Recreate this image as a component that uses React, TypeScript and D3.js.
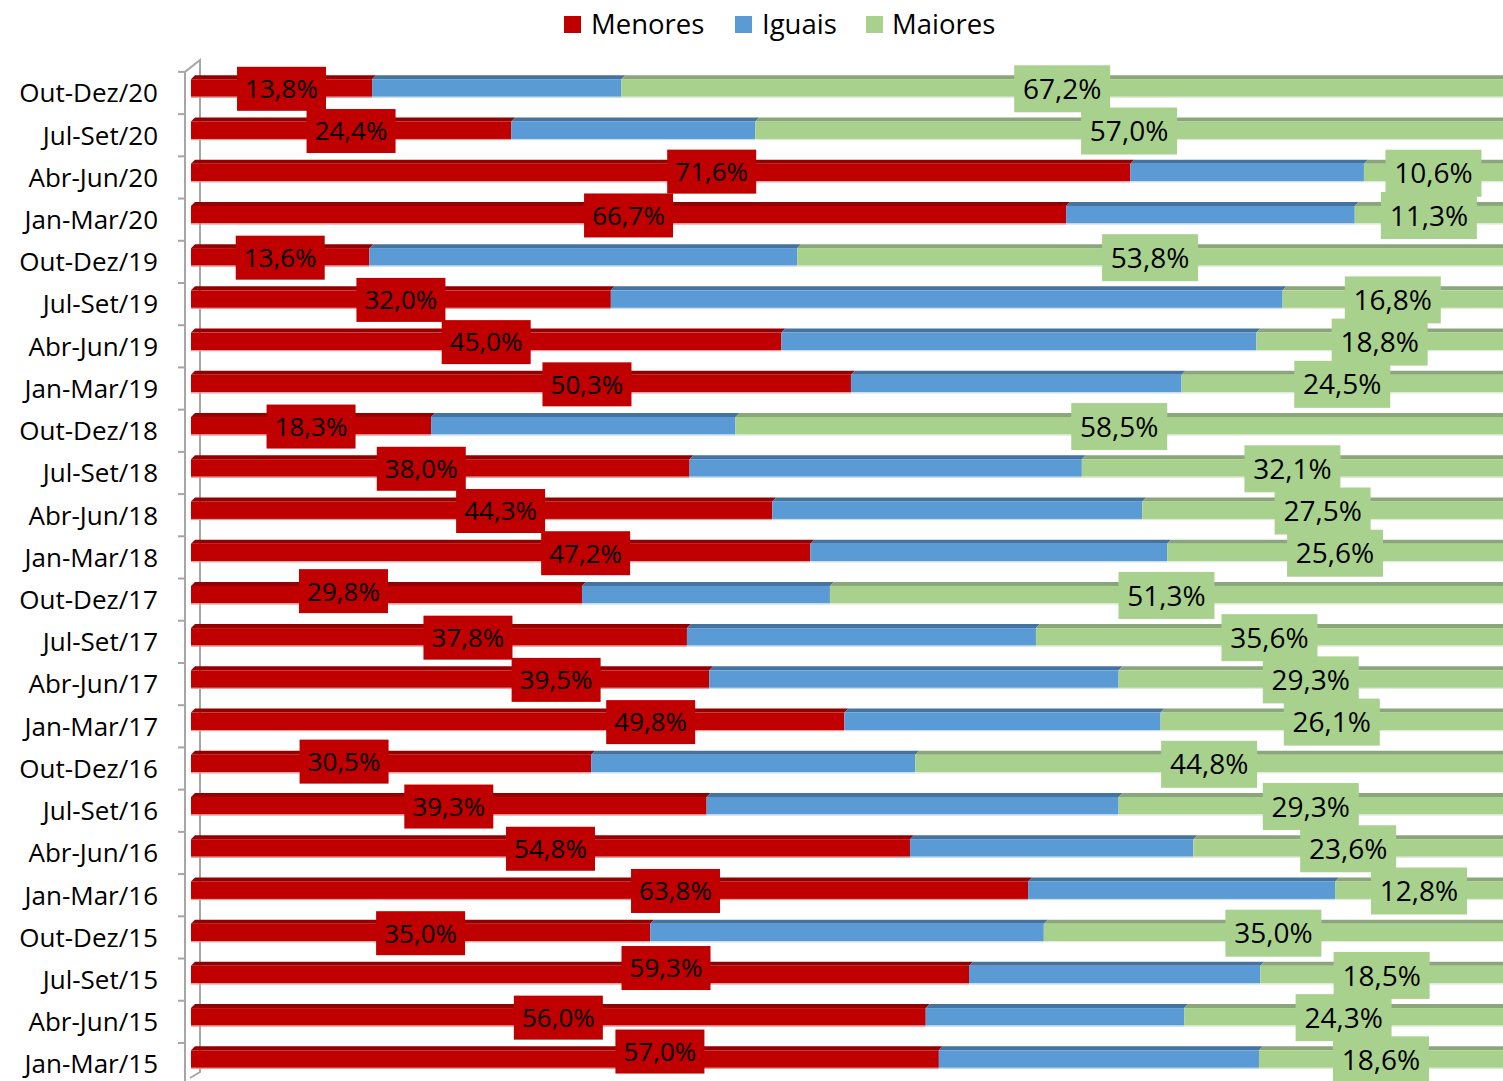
import React from 'react';
import * as d3 from 'd3';

const categories = [
  'Out-Dez/20', 'Jul-Set/20', 'Abr-Jun/20', 'Jan-Mar/20',
  'Out-Dez/19', 'Jul-Set/19', 'Abr-Jun/19', 'Jan-Mar/19',
  'Out-Dez/18', 'Jul-Set/18', 'Abr-Jun/18', 'Jan-Mar/18',
  'Out-Dez/17', 'Jul-Set/17', 'Abr-Jun/17', 'Jan-Mar/17',
  'Out-Dez/16', 'Jul-Set/16', 'Abr-Jun/16', 'Jan-Mar/16',
  'Out-Dez/15', 'Jul-Set/15', 'Abr-Jun/15', 'Jan-Mar/15',
];

const menores = [13.8, 24.4, 71.6, 66.7, 13.6, 32.0, 45.0, 50.3, 18.3, 38.0, 44.3, 47.2, 29.8, 37.8, 39.5, 49.8, 30.5, 39.3, 54.8, 63.8, 35.0, 59.3, 56.0, 57.0];
const iguais = [19.0, 18.6, 17.8, 22.0, 32.6, 51.2, 36.2, 25.2, 23.2, 29.9, 28.2, 27.2, 18.9, 26.6, 31.2, 24.1, 24.7, 31.4, 21.6, 23.4, 30.0, 22.2, 19.7, 24.4];
const maiores = [67.2, 57.0, 10.6, 11.3, 53.8, 16.8, 18.8, 24.5, 58.5, 32.1, 27.5, 25.6, 51.3, 35.6, 29.3, 26.1, 44.8, 29.3, 23.6, 12.8, 35.0, 18.5, 24.3, 18.6];

const seriesNames = ['Menores', 'Iguais', 'Maiores'];
const seriesColors = ['#C00000', '#5B9BD5', '#A9D18E'];
const seriesTopColors = ['#930000', '#44739F', '#8AA67A'];
const seriesEdgeColors = ['#E59A9A', '#C6DCF0', '#DDEBD3'];

// Layout: manual shifts (px) of the Menores data labels, as placed in the reference
const menoresLabelShift: Record<string, [number, number]> = {
  'Abr-Jun/20': [51, -1.6],
  'Jan-Mar/19': [66, 0],
  'Jul-Set/18': [-19, 0],
  'Abr-Jun/18': [19, 0],
  'Jan-Mar/18': [85, 0],
  'Out-Dez/17': [-43, -4.3],
  'Jul-Set/17': [29, 0],
  'Abr-Jun/17': [106, 0],
  'Jan-Mar/17': [133, 0],
  'Out-Dez/16': [-47, -2.7],
  'Jan-Mar/16': [66, 0],
  'Jul-Set/15': [86, -7.4],
  'Jan-Mar/15': [95, -8.3],
};

const FONT = "'Open Sans', 'Noto Sans', sans-serif";
const fmt = (v: number) => v.toFixed(1).replace('.', ',') + '%';

export default function App() {
  const W = 1503;
  const H = 1081;
  const step = 42.22;
  const x = d3.scaleLinear().domain([0, 100]).range([191, 1503]);
  const y = d3.scalePoint<string>().domain(categories).range([93, 93 + (categories.length - 1) * step]);

  const rows = categories.map((c, i) => ({ cat: c, Menores: menores[i], Iguais: iguais[i], Maiores: maiores[i] }));
  const stacked = d3.stack<any>().keys(seriesNames)(rows);

  const faceH = 17.5;
  const depth = 4;
  const barOffset = -5;

  const bars: React.ReactNode[] = [];
  stacked.forEach((layer, si) => {
    layer.forEach((d: any) => {
      const x0 = x(d[0]);
      const x1 = x(d[1]);
      const yc = (y(d.data.cat) as number) + barOffset;
      const yt = yc - faceH / 2;
      const top = [
        [x0, yt], [x1, yt], [x1 + depth, yt - depth], [x0 + depth, yt - depth],
      ].map((p) => p.join(',')).join(' ');
      bars.push(
        <g key={`b-${si}-${d.data.cat}`}>
          <polygon points={top} fill={seriesTopColors[si]} />
          <rect x={x0} y={yt} width={Math.max(0, x1 - x0)} height={faceH} fill={seriesColors[si]} />
          <rect x={x0} y={yt + faceH} width={Math.max(0, x1 - x0)} height={1.2} fill={seriesEdgeColors[si]} />
        </g>
      );
    });
  });

  const labels: React.ReactNode[] = [];
  // Menores labels (red boxes)
  stacked[0].forEach((d: any) => {
    const cat = d.data.cat;
    const shift = menoresLabelShift[cat] || [0, 0];
    const cx = (x(d[0]) + x(d[1])) / 2 + shift[0];
    const cy = (y(cat) as number) - 4.2 + shift[1];
    const bw = 89, bh = 44;
    labels.push(
      <g key={`lm-${cat}`}>
        <rect x={cx - bw / 2} y={cy - bh / 2} width={bw} height={bh} fill={seriesColors[0]} />
        <text x={cx} y={cy} dy="0.36em" textAnchor="middle" fontFamily={FONT} fontSize={26} fill="#000">
          {fmt(d.data.Menores)}
        </text>
      </g>
    );
  });
  // Maiores labels (green boxes)
  stacked[2].forEach((d: any) => {
    const cat = d.data.cat;
    const cx = (x(d[0]) + x(d[1])) / 2;
    const cy = (y(cat) as number) - 4.2;
    const bw = 96, bh = 47;
    labels.push(
      <g key={`lM-${cat}`}>
        <rect x={cx - bw / 2} y={cy - bh / 2} width={bw} height={bh} fill={seriesColors[2]} />
        <text x={cx} y={cy} dy="0.36em" textAnchor="middle" fontFamily={FONT} fontSize={28} fill="#000">
          {fmt(d.data.Maiores)}
        </text>
      </g>
    );
  });

  const tickYs = d3.range(categories.length + 1).map((i) => 93 - step / 2 + i * step);

  const legendItems = [
    { name: seriesNames[0], sx: 564, tx: 591 },
    { name: seriesNames[1], sx: 735, tx: 762 },
    { name: seriesNames[2], sx: 866, tx: 892 },
  ];

  return (
    <svg width={W} height={H} style={{ position: 'absolute', left: 0, top: 0, background: '#fff' }}>
      <rect x={0} y={0} width={W} height={H} fill="#fff" />
      {/* legend */}
      {legendItems.map((it, i) => (
        <g key={it.name}>
          <rect x={it.sx} y={16} width={17} height={17} fill={seriesColors[i]} />
          <text x={it.tx} y={24.5} dy="0.36em" fontFamily={FONT} fontSize={27.5} fill="#000">{it.name}</text>
        </g>
      ))}
      {/* 3D wall edge and ticks */}
      <g stroke="#A6A6A6" strokeWidth={2} fill="none">
        <path d={`M185,${tickYs[0]} L185,${H}`} />
        <path d={`M185,${tickYs[0]} L200,60 L200,1072 L190,1078`} />
        {tickYs.map((t, i) => (
          <line key={i} x1={178} x2={185} y1={t} y2={t} />
        ))}
      </g>
      {/* category labels */}
      {categories.map((c) => (
        <text key={c} x={158} y={y(c) as number} dy="0.36em" textAnchor="end" fontFamily={FONT} fontSize={26} fill="#000">
          {c}
        </text>
      ))}
      {bars}
      {labels}
    </svg>
  );
}
